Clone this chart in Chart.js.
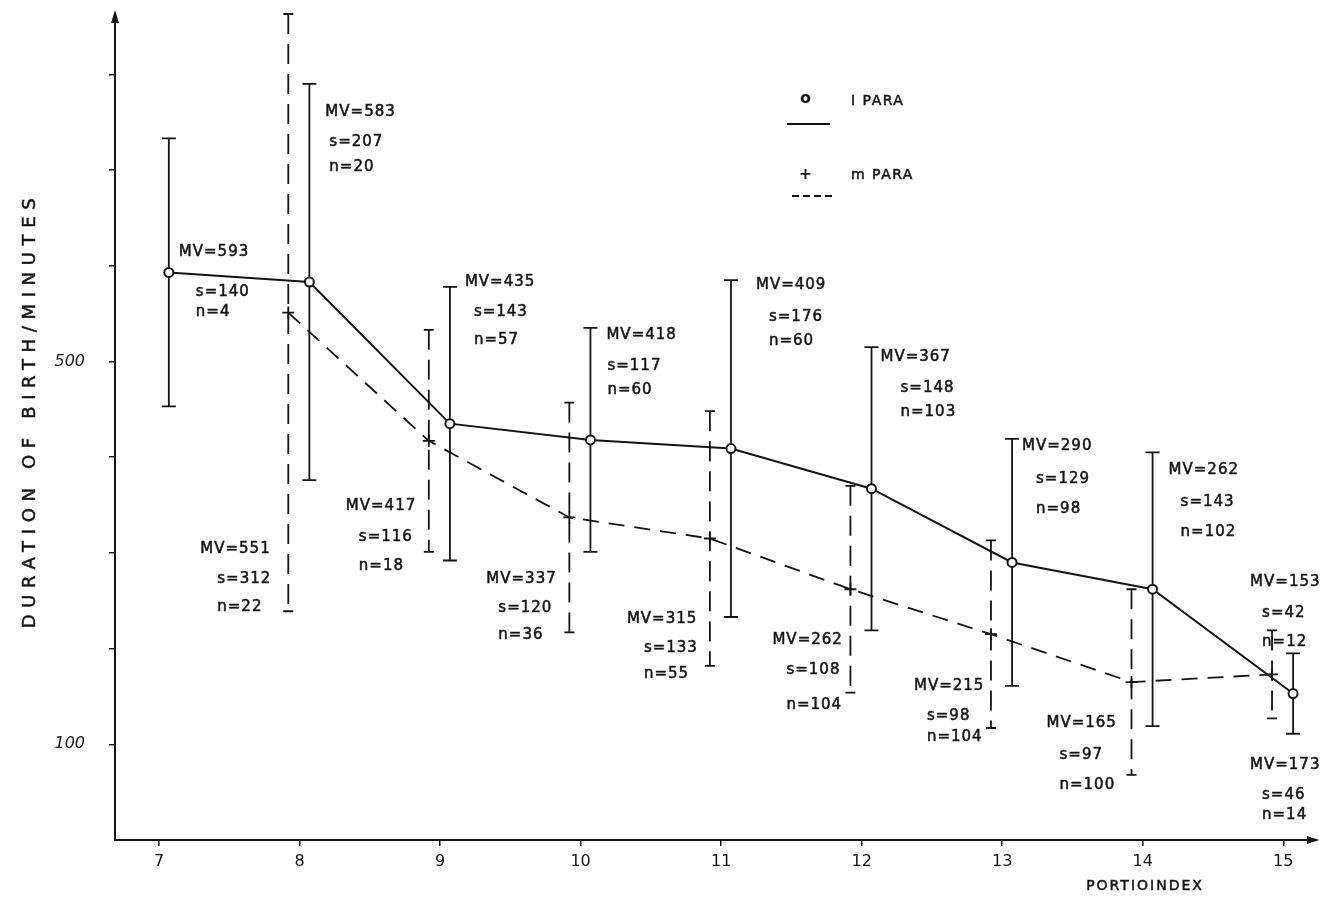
<!DOCTYPE html>
<html lang="en">
<head>
<meta charset="UTF-8">
<title>Duration of birth by portioindex</title>
<script src="https://cdn.jsdelivr.net/npm/chart.js"></script>
<style>
  html, body { margin: 0; padding: 0; background: #fff; }
  #wrap { width: 1332px; height: 902px; }
</style>
</head>
<body>
<div id="wrap"><canvas id="chart" width="1332" height="902"></canvas></div>
<script>
// I PARA (solid line, circles)
const portioI = [7, 8, 9, 10, 11, 12, 13, 14, 15];
const mvI = [593, 583, 435, 418, 409, 367, 290, 262, 153];
const sdI = [140, 207, 143, 117, 176, 148, 129, 143, 42];
const nI = [4, 20, 57, 60, 60, 103, 98, 102, 12];

// m PARA (dashed line, crosses)
const portioM = [8, 9, 10, 11, 12, 13, 14, 15];
const mvM = [551, 417, 337, 315, 262, 215, 165, 173];
const sdM = [312, 116, 120, 133, 108, 98, 97, 46];
const nM = [22, 18, 36, 55, 104, 104, 100, 14];

const xTicks = [7, 8, 9, 10, 11, 12, 13, 14, 15];
const yTicks = [100, 200, 300, 400, 500, 600, 700, 800];
const yLabelled = [100, 500];

// hand-drawn points sit a bit off the integer ticks
const xOffI = 0.07, xOffM = -0.08;

// text block placement: [dx, dy, indent of s/n lines, gap MV->s, gap s->n] in px from the point
const boxI = [[10, -20, 17, 40, 20], [16, -170, 4, 30, 25], [15, -142, 9, 30, 28], [16, -105, 1, 31, 24],
  [25, -163, 13, 32, 24], [9, -132, 20, 31, 24], [10, -116, 14, 33, 30], [16, -119, 12, 32, 30], [-43, -111, 12, 31, 29]];
const boxM = [[-88, 236, 17, 30, 28], [-83, 65, 13, 31, 29], [-83, 62, 12, 29, 27], [-83, 81, 17, 29, 26],
  [-78, 51, 14, 30, 35], [-77, 52, 13, 30, 21], [-85, 41, 13, 32, 30], [-22, 91, 12, 30, 20]];

const INK = '#141414';
const FONT = "'DejaVu Sans', sans-serif";

function errBars(ctx, xs, ys, cats, off, mv, sd, dashed, cap) {
  ctx.save();
  ctx.strokeStyle = INK;
  ctx.lineWidth = 1.8;
  for (let i = 0; i < cats.length; i++) {
    const x = xs.getPixelForValue(cats[i] + off);
    const yTop = ys.getPixelForValue(mv[i] + sd[i]);
    const yBot = ys.getPixelForValue(mv[i] - sd[i]);
    ctx.setLineDash(dashed ? [20, 10] : []);
    ctx.beginPath();
    ctx.moveTo(x, yTop);
    ctx.lineTo(x, yBot);
    ctx.stroke();
    ctx.setLineDash([]);
    ctx.beginPath();
    ctx.moveTo(x - cap, yTop); ctx.lineTo(x + cap, yTop);
    ctx.moveTo(x - cap, yBot); ctx.lineTo(x + cap, yBot);
    ctx.stroke();
  }
  ctx.restore();
}

// pen-like text: fill plus a thin outline
function penText(ctx, s, x, y) {
  ctx.fillText(s, x, y);
  ctx.strokeText(s, x, y);
}

function textBlocks(ctx, xs, ys, cats, off, mv, sd, n, box) {
  for (let i = 0; i < cats.length; i++) {
    const px = xs.getPixelForValue(cats[i] + off);
    const py = ys.getPixelForValue(mv[i]);
    const [dx, dy, ind, g1, g2] = box[i];
    const x0 = px + dx, y0 = py + dy;
    penText(ctx, 'MV=' + mv[i], x0, y0);
    penText(ctx, 's=' + sd[i], x0 + ind, y0 + g1);
    penText(ctx, 'n=' + n[i], x0 + ind, y0 + g1 + g2);
  }
}

const decor = {
  id: 'decor',
  beforeDatasetsDraw(chart) {
    const { ctx, scales: { x, y } } = chart;
    errBars(ctx, x, y, portioI, xOffI, mvI, sdI, false, 7);
    errBars(ctx, x, y, portioM, xOffM, mvM, sdM, true, 5);
  },
  afterDraw(chart) {
    const { ctx, chartArea: a, scales: { x, y } } = chart;
    ctx.save();
    ctx.fillStyle = INK;
    ctx.strokeStyle = INK;

    // axis arrows
    ctx.beginPath();
    ctx.moveTo(a.left, a.top - 4);
    ctx.lineTo(a.left - 4, a.top + 9);
    ctx.lineTo(a.left + 4, a.top + 9);
    ctx.closePath();
    ctx.fill();
    ctx.beginPath();
    ctx.moveTo(a.right + 2, a.bottom);
    ctx.lineTo(a.right - 10, a.bottom - 4);
    ctx.lineTo(a.right - 10, a.bottom + 4);
    ctx.closePath();
    ctx.fill();

    // annotations
    ctx.font = '15px ' + FONT;
    ctx.letterSpacing = '1px';
    ctx.lineWidth = 0.5;
    ctx.textAlign = 'left';
    ctx.textBaseline = 'middle';
    textBlocks(ctx, x, y, portioI, xOffI, mvI, sdI, nI, boxI);
    textBlocks(ctx, x, y, portioM, xOffM, mvM, sdM, nM, boxM);

    // legend
    ctx.font = 'bold 16px ' + FONT;
    ctx.textAlign = 'center';
    ctx.fillText('o', 806, 99);
    ctx.fillText('+', 806, 175);
    ctx.textAlign = 'left';
    ctx.font = '14px ' + FONT;
    ctx.letterSpacing = '1.5px';
    penText(ctx, 'I PARA', 851, 101);
    penText(ctx, 'm PARA', 851, 175);
    ctx.lineWidth = 2;
    ctx.beginPath();
    ctx.moveTo(787, 124); ctx.lineTo(830, 124);
    ctx.stroke();
    ctx.setLineDash([7, 4]);
    ctx.beginPath();
    ctx.moveTo(792, 196); ctx.lineTo(832, 196);
    ctx.stroke();
    ctx.setLineDash([]);

    // axis titles
    ctx.lineWidth = 0.5;
    ctx.font = '14px ' + FONT;
    ctx.letterSpacing = '2px';
    ctx.textAlign = 'center';
    penText(ctx, 'PORTIOINDEX', 1145, 886);

    const yTitle = 'DURATION OF BIRTH/MINUTES';
    ctx.font = '18px ' + FONT;
    ctx.letterSpacing = '0px';
    const w = ctx.measureText(yTitle).width;
    ctx.letterSpacing = ((430 - w) / (yTitle.length - 1)).toFixed(2) + 'px';
    ctx.translate(30, 410);
    ctx.rotate(-Math.PI / 2);
    penText(ctx, yTitle, 0, 0);
    ctx.restore();
  }
};

const ctx = document.getElementById('chart').getContext('2d');
new Chart(ctx, {
  type: 'line',
  data: {
    datasets: [
      {
        label: 'I PARA',
        data: portioI.map((p, i) => ({ x: p + xOffI, y: mvI[i] })),
        borderColor: INK,
        borderWidth: 2,
        tension: 0,
        pointStyle: 'circle',
        pointRadius: 4.5,
        pointBackgroundColor: '#fff',
        pointBorderColor: INK,
        pointBorderWidth: 2
      },
      {
        label: 'm PARA',
        data: portioM.map((p, i) => ({ x: p + xOffM, y: mvM[i] })),
        borderColor: INK,
        borderWidth: 1.8,
        borderDash: [16, 10],
        tension: 0,
        pointStyle: 'cross',
        pointRadius: 6,
        pointBorderColor: INK,
        pointBorderWidth: 1.8
      }
    ]
  },
  options: {
    responsive: false,
    animation: false,
    layout: { padding: { top: 14, right: 15, left: 0, bottom: 0 } },
    plugins: { legend: { display: false }, tooltip: { enabled: false } },
    scales: {
      x: {
        type: 'linear',
        min: 6.687,
        max: 15.24,
        afterFit(s) { s.height = 62; s.paddingLeft = 0; s.paddingRight = 0; },
        afterBuildTicks(s) { s.ticks = xTicks.map(v => ({ value: v })); },
        grid: { drawOnChartArea: false, tickLength: 6, color: INK, lineWidth: 1.5 },
        border: { color: INK, width: 2 },
        ticks: { autoSkip: false, color: INK, padding: 6, maxRotation: 0, font: { family: FONT, size: 16 } }
      },
      y: {
        min: 0,
        max: 863,
        afterFit(s) { s.width = 115; s.paddingTop = 0; s.paddingBottom = 0; },
        afterBuildTicks(s) { s.ticks = yTicks.map(v => ({ value: v })); },
        grid: { drawOnChartArea: false, tickLength: 6, color: INK, lineWidth: 1.5 },
        border: { color: INK, width: 2 },
        ticks: {
          color: INK,
          padding: 24,
          font: { family: FONT, size: 16, style: 'italic' },
          callback: v => yLabelled.includes(v) ? String(v) : ''
        }
      }
    }
  },
  plugins: [decor]
});
</script>
</body>
</html>
